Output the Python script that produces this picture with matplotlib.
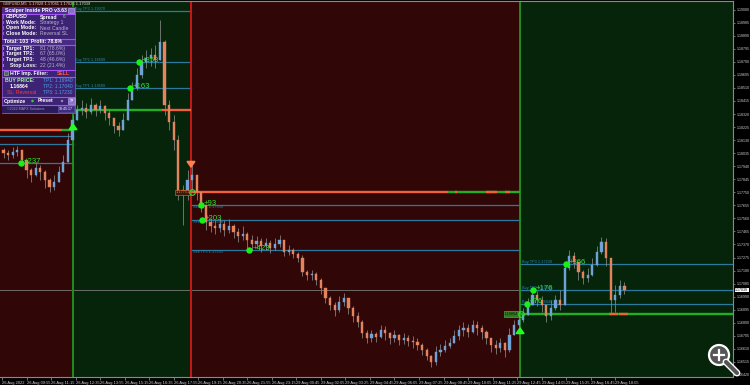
import matplotlib
matplotlib.use("Agg")
import matplotlib.pyplot as plt
from matplotlib.patches import Rectangle, Circle
import matplotlib.transforms as mtransforms
import numpy as np

plt.rcParams['font.family'] = ['Liberation Sans', 'DejaVu Sans']

# ---- price data (15 min candles) ----
first_open = 1.18058
closes = [
    1.18036, 1.18022, 1.18043, 1.18058, 1.17985, 1.17912, 1.17876, 1.17927, 1.17898, 1.17840,
    1.17789, 1.17825, 1.17898, 1.17971, 1.18131, 1.18276, 1.18349, 1.18364, 1.18335, 1.18386,
    1.18349, 1.18378, 1.18327, 1.18291, 1.18233, 1.18204, 1.18276, 1.18422, 1.18509, 1.18604,
    1.18699, 1.18728, 1.18750, 1.18713, 1.18844, 1.18386, 1.18262, 1.18131, 1.17767, 1.17730,
    1.17840, 1.17876, 1.17752, 1.17658, 1.17534, 1.17505, 1.17490, 1.17519, 1.17476, 1.17505,
    1.17461, 1.17432, 1.17447, 1.17403, 1.17374, 1.17396, 1.17359, 1.17381, 1.17345, 1.17374,
    1.17403, 1.17315, 1.17330, 1.17301, 1.17272, 1.17170, 1.17148, 1.17155, 1.17112, 1.17053,
    1.16981, 1.16930, 1.16893, 1.16951, 1.16981, 1.16908, 1.16850, 1.16806, 1.16726, 1.16689,
    1.16719, 1.16697, 1.16748, 1.16726, 1.16689, 1.16711, 1.16675, 1.16689, 1.16668, 1.16660,
    1.16638, 1.16602, 1.16558, 1.16515, 1.16587, 1.16602, 1.16631, 1.16653, 1.16704, 1.16748,
    1.16762, 1.16733, 1.16784, 1.16762, 1.16733, 1.16689, 1.16638, 1.16617, 1.16653, 1.16602,
    1.16711, 1.16784, 1.16820, 1.16857, 1.16930, 1.17002, 1.16966, 1.16930, 1.16850, 1.16908,
    1.16966, 1.16930, 1.17199, 1.17286, 1.17243, 1.17170, 1.17126, 1.17148, 1.17221, 1.17315,
    1.17388, 1.17272, 1.16966, 1.17002, 1.17068, 1.17039,
]
highs = [
    1.18073, 1.18058, 1.18080, 1.18087, 1.18058, 1.17985, 1.17927, 1.17971, 1.17949, 1.17912,
    1.17854, 1.17876, 1.17942, 1.18022, 1.18182, 1.18313, 1.18386, 1.18422, 1.18400, 1.18437,
    1.18400, 1.18422, 1.18386, 1.18349, 1.18291, 1.18262, 1.18327, 1.18473, 1.18553, 1.18655,
    1.18750, 1.18786, 1.18801, 1.18822, 1.19004, 1.18859, 1.18422, 1.18313, 1.18167, 1.17803,
    1.17912, 1.17949, 1.17854, 1.17730, 1.17658, 1.17563, 1.17548, 1.17563, 1.17548, 1.17556,
    1.17519, 1.17490, 1.17505, 1.17461, 1.17439, 1.17432, 1.17417, 1.17417, 1.17403, 1.17417,
    1.17439, 1.17359, 1.17366, 1.17345, 1.17315, 1.17294, 1.17184, 1.17184, 1.17170, 1.17126,
    1.17053, 1.16995, 1.16951, 1.16995, 1.17017, 1.16981, 1.16922, 1.16879, 1.16820, 1.16748,
    1.16748, 1.16733, 1.16784, 1.16777, 1.16733, 1.16748, 1.16719, 1.16726, 1.16711, 1.16704,
    1.16689, 1.16653, 1.16617, 1.16566, 1.16631, 1.16646, 1.16675, 1.16689, 1.16748, 1.16784,
    1.16806, 1.16791, 1.16820, 1.16813, 1.16784, 1.16748, 1.16689, 1.16675, 1.16689, 1.16660,
    1.16762, 1.16820, 1.16871, 1.16908, 1.16981, 1.17053, 1.17032, 1.16995, 1.16930, 1.16966,
    1.17002, 1.17039, 1.17243, 1.17330, 1.17315, 1.17228, 1.17184, 1.17199, 1.17272, 1.17359,
    1.17425, 1.17417, 1.17272, 1.17075, 1.17112, 1.17097,
]
lows = [
    1.18000, 1.17985, 1.18000, 1.18014, 1.17949, 1.17854, 1.17825, 1.17869, 1.17840, 1.17781,
    1.17752, 1.17767, 1.17840, 1.17912, 1.17971, 1.18131, 1.18276, 1.18313, 1.18291, 1.18320,
    1.18306, 1.18327, 1.18276, 1.18240, 1.18182, 1.18160, 1.18204, 1.18313, 1.18422, 1.18495,
    1.18582, 1.18655, 1.18670, 1.18655, 1.18713, 1.18313, 1.18204, 1.18058, 1.17694, 1.17512,
    1.17694, 1.17767, 1.17694, 1.17607, 1.17476, 1.17461, 1.17447, 1.17461, 1.17432, 1.17454,
    1.17417, 1.17388, 1.17403, 1.17345, 1.17330, 1.17345, 1.17315, 1.17330, 1.17308, 1.17330,
    1.17352, 1.17286, 1.17294, 1.17272, 1.17243, 1.17141, 1.17112, 1.17112, 1.17075, 1.17010,
    1.16944, 1.16893, 1.16850, 1.16879, 1.16922, 1.16864, 1.16806, 1.16769, 1.16689, 1.16653,
    1.16660, 1.16660, 1.16689, 1.16675, 1.16646, 1.16660, 1.16638, 1.16646, 1.16631, 1.16617,
    1.16602, 1.16566, 1.16529, 1.16478, 1.16493, 1.16558, 1.16587, 1.16617, 1.16653, 1.16675,
    1.16704, 1.16697, 1.16726, 1.16711, 1.16682, 1.16646, 1.16587, 1.16573, 1.16587, 1.16551,
    1.16587, 1.16711, 1.16769, 1.16806, 1.16857, 1.16930, 1.16922, 1.16879, 1.16806, 1.16820,
    1.16893, 1.16893, 1.16930, 1.17184, 1.17199, 1.17112, 1.17083, 1.17097, 1.17141, 1.17214,
    1.17301, 1.17214, 1.16871, 1.16879, 1.16981, 1.17010,
]

time_labels = ["26 Aug 2022", "26 Aug 09:55", "26 Aug 11:15", "26 Aug 12:35", "26 Aug 13:55",
               "26 Aug 15:15", "26 Aug 16:35", "26 Aug 17:55", "26 Aug 19:15", "26 Aug 20:35",
               "26 Aug 21:55", "26 Aug 23:15", "29 Aug 00:45", "29 Aug 02:05", "29 Aug 03:25",
               "29 Aug 04:45", "29 Aug 06:05", "29 Aug 07:25", "29 Aug 08:45", "29 Aug 10:05",
               "29 Aug 11:25", "29 Aug 12:45", "29 Aug 14:05", "29 Aug 15:25", "29 Aug 16:45",
               "29 Aug 18:05"]

# ---- trades (signal candle positions, direction, entry and targets) ----
trade_start = [-0.8, 15.1, 40.75, 112.3]
trade_end = [15.1, 40.75, 112.3, 158.6]
trade_dir = ["Sell", "Buy", "Sell", "Buy"]
trade_entry = [1.18200, 1.18346, 1.17751, 1.16864]
trade_tps = [[1.18160, 1.18102, 1.17963],
             [1.18509, 1.18699, 1.19070],
             [1.17658, 1.17548, 1.17330],
             [1.16940, 1.17040, 1.17230]]
# entry line pieces: (trade, from, to, state)  'loss' -> orange, 'win' -> green
entry_pieces = [(0, -0.8, 12.7, "loss"), (0, 12.7, 15.1, "win"),
                (1, 15.1, 34.45, "win"), (1, 34.45, 40.75, "loss"),
                (2, 40.75, 96.6, "loss"), (2, 96.6, 112.3, "win"),
                (2, 98.1, 98.6, "loss"), (2, 105.0, 107.3, "loss"), (2, 109.0, 110.1, "loss"),
                (3, 112.3, 158.6, "win"),
                (3, 131.6, 133.6, "loss"), (3, 133.8, 135.8, "loss")]

hit_x = [3.8, 27.5, 29.45, 42.9, 43.1, 53.4, 113.8, 115.1, 122.3]
hit_price = [1.17963, 1.18509, 1.18699, 1.17658, 1.17548, 1.17330, 1.16940, 1.17040, 1.17230]
hit_text = ["+237", "+163", "+353", "+93", "+203", "+423", "+76", "+176", "+366"]

buy_arrows_x = [15.1, 112.3]
buy_arrows_p = [1.18276, 1.16791]
sell_arrows_x = [40.75]
sell_arrows_p = [1.17905]

y_ticks = [round(1.16420 + 0.00095 * k, 5) for k in range(29)]

# ---- figure ----
fig = plt.figure(figsize=(7.5, 3.85), dpi=100, facecolor="black")
ax = fig.add_axes([0, 8 / 385, 733 / 750, 376 / 385])
ax.set_facecolor("black")
ax.set_xlim(-0.77, 158.6)
ax.set_ylim(1.16405, 1.19143)

bg = {"Sell": "#300606", "Buy": "#05240a"}
vcol = {"Sell": "#c81818", "Buy": "#1d8f1d"}
for s, e, d in zip(trade_start, trade_end, trade_dir):
    ax.axvspan(s, e, color=bg[d], lw=0, zorder=0)
for s, d in zip(trade_start[1:], trade_dir[1:]):
    ax.axvline(s, color=vcol[d], lw=1.4, zorder=2)

# bid line
ax.axhline(closes[-1], color="#7a7a7a", lw=0.6, zorder=1)

# TP lines + labels (sell labels sit under the line, buy labels over it)
for i, (s, e, d) in enumerate(zip(trade_start, trade_end, trade_dir)):
    for k, tp in enumerate(trade_tps[i]):
        ax.plot([s, e], [tp, tp], color="#2a7aa0", lw=0.9, zorder=1.5)
        if s > 0:
            ax.text(s + 0.4, tp, f"{d} TP{k + 1} {tp:.5f}", color="#2f86b0",
                    fontsize=2.8, va="top" if d == "Sell" else "bottom",
                    ha="left", zorder=2)

# entry lines
piece_col = {"loss": "#f0603c", "win": "#22b022"}
for i, a, b, st in entry_pieces:
    ax.plot([a, b], [trade_entry[i]] * 2, color=piece_col[st], lw=1.7,
            solid_capstyle="butt", zorder=2.5)

# candles
x = np.arange(len(closes))
c = np.array(closes)
o = np.array([first_open] + closes[:-1])
hi = np.maximum(np.array(highs), np.maximum(o, c))
lo = np.minimum(np.array(lows), np.minimum(o, c))
up = c >= o
ax.vlines(x, lo, hi, color="#8a8a8a", lw=0.55, zorder=3)
ax.bar(x[up], (c - o)[up], bottom=o[up], width=0.5, color="#6fa3d6",
       edgecolor="#6fa3d6", lw=0.3, zorder=4)
ax.bar(x[~up], (c - o)[~up], bottom=o[~up], width=0.5, color="#e3845e",
       edgecolor="#e3845e", lw=0.3, zorder=4)

# entry price boxes and open circles
ax.text(trade_start[2] - 0.3, trade_entry[2], f"{trade_entry[2]:.5f}", ha="right", va="center",
        fontsize=2.8, color="#e07040", zorder=6,
        bbox=dict(boxstyle="square,pad=0.15", fc="#3a1a0a", ec="#c06030", lw=0.5))
ax.text(trade_start[3] - 0.3, trade_entry[3], f"{trade_entry[3]:.5f}", ha="right", va="center",
        fontsize=2.8, color="#0a200a", zorder=6,
        bbox=dict(boxstyle="square,pad=0.15", fc="#2f7a1c", ec="#40b040", lw=0.5))
ax.plot([trade_start[2] + 0.3, trade_start[3] + 0.3], [trade_entry[2], trade_entry[3]], "o",
        mfc="none", mec="#33dd33", ms=4, mew=0.8, zorder=6)

# TP hits
ax.plot(hit_x, hit_price, "o", color="#19f019", ms=3.6, zorder=7)
for hx, hp, t in zip(hit_x, hit_price, hit_text):
    ax.annotate(t, (hx, hp), xytext=(2.2, 1.2), textcoords="offset points",
                color="#2fe62f", fontsize=5.6, va="center", ha="left", zorder=7)

# signal arrows
for ax_x, ax_p in zip(buy_arrows_x, buy_arrows_p):
    ax.annotate("", xy=(ax_x, ax_p), xytext=(0, -7), textcoords="offset points",
                arrowprops=dict(arrowstyle="-|>,head_width=0.25,head_length=0.35",
                                color="#22ff22", lw=1.4), zorder=8)
for ax_x, ax_p in zip(sell_arrows_x, sell_arrows_p):
    ax.annotate("", xy=(ax_x, ax_p), xytext=(0, 7), textcoords="offset points",
                arrowprops=dict(arrowstyle="-|>,head_width=0.25,head_length=0.35",
                                color="#ff7f50", lw=1.4), zorder=8)

# axes cosmetics
ax.yaxis.tick_right()
ax.set_yticks(y_ticks)
ax.set_yticklabels([f"{v:.5f}" for v in y_ticks])
tick_pos = (16 * np.arange(len(time_labels)) - 1) / 3
ax.set_xticks(tick_pos)
ax.set_xticklabels(time_labels, ha="left")
ax.tick_params(axis="y", colors="#9a9a9a", labelcolor="#d0d0d0", labelsize=2.6,
               length=1.5, width=0.5, pad=1.0)
ax.tick_params(axis="x", colors="#9a9a9a", labelcolor="#d0d0d0", labelsize=2.9,
               length=2, width=0.5, pad=1.0)
for sp in ax.spines.values():
    sp.set_color("#8a8a8a")
    sp.set_linewidth(0.8)
ax.spines["left"].set_visible(False)

trans = mtransforms.blended_transform_factory(ax.transAxes, ax.transData)
ax.text(1.003, closes[-1], f"{closes[-1]:.5f}", transform=trans, fontsize=2.6,
        color="black", va="center", ha="left", zorder=9, clip_on=False,
        bbox=dict(boxstyle="square,pad=0.1", fc="white", ec="white", lw=0))

# ---- overlay in pixel coordinates: header, info panel, zoom icon ----
ov = fig.add_axes([0, 0, 1, 1], zorder=10)
ov.set_xlim(0, 750)
ov.set_ylim(385, 0)
ov.axis("off")

ov.text(3, 3.5, "GBPUSD,M5  1.17028 1.17041 1.17026 1.17039", fontsize=2.9,
        color="#d8d8d8", va="center", ha="left")

ov.add_patch(Rectangle((2, 7), 73, 106, fc="#3c2373", ec="#8a50d8", lw=0.6))
ov.add_patch(Rectangle((2, 7), 73, 7, fc="#4c2e8e", ec="none"))
ov.add_patch(Rectangle((2, 38.5), 73, 6, fc="#462a84", ec="none"))
ov.add_patch(Rectangle((2, 105), 73, 8, fc="#2c1b5a", ec="none"))
for sy in [14, 38.5, 44.5, 69.5, 77, 97, 105]:
    ov.plot([2, 75], [sy, sy], color="#a552f5", lw=0.8)

bold = dict(fontsize=3.7, fontweight="bold", va="center", ha="left")
ov.text(5, 10.5, "Scalper Inside PRO v3.63", color="white", **bold)
ov.add_patch(Rectangle((68, 8.2), 6, 5, fc="#8a6cd0", ec="#c8b8f0", lw=0.4))

info_labels = ["GBPUSD", "Work Mode:", "Open Mode:", "Close Mode:"]
info_values = ["Strategy 1", "Next Candle", "Reversal SL"]
info_y = [17, 22.5, 28, 33.5]
for lab, yy in zip(info_labels, info_y):
    ov.add_patch(Rectangle((2.6, yy - 1.8), 1.4, 3.6, fc="#c040c8", ec="none"))
    ov.text(5.5, yy, lab, color="white", **bold)
ov.text(40, info_y[0], "Spread", color="white", **bold)
ov.text(63, info_y[0], "6", color="#40c040", **bold)
for val, yy in zip(info_values, info_y[1:]):
    ov.text(40, yy, val, color="#b8b4cc", fontsize=3.7, va="center", ha="left")

ov.text(4, 41.5, "Total: 103  Profit: 78.6%", color="white", **bold)

stat_labels = ["Target TP1:", "Target TP2:", "Target TP3:", "Stop Loss:"]
stat_values = ["81 (78.6%)", "67 (65.0%)", "48 (46.6%)", "22 (21.4%)"]
stat_y = [48.5, 54, 59.5, 65.5]
stat_col = ["#40c040", "#40c040", "#40c040", "#ff6a30"]
for lab, val, yy, cc in zip(stat_labels, stat_values, stat_y, stat_col):
    ov.add_patch(Rectangle((2.6, yy - 1.8), 1.4, 3.6, fc=cc, ec="none"))
    ov.text(6.5 if lab.startswith("T") else 10, yy, lab, color="white", **bold)
    ov.text(40, yy, val, color="#b8b4cc", fontsize=3.7, va="center", ha="left")

ov.add_patch(Rectangle((4, 71.3), 4, 4, fc="#4a6a5a", ec="#a0c0a0", lw=0.4))
ov.text(10, 73.3, "HTF Imp. Filter:", color="white", **bold)
ov.text(57, 73.3, "SELL", color="#ff5a30", **bold)

ov.text(5, 81, "BUY PRICE:", color="#a8f5a8", **bold)
ov.text(10, 87, f"{trade_entry[3]:.5f}", color="white", **bold)
ov.text(7, 93, "SL: Reversal", color="#ff3a3a", fontsize=3.7, va="center", ha="left")
for k, yy in enumerate([81, 87, 93]):
    ov.text(43, yy, f"TP{k + 1}: {trade_tps[3][k]:.5f}", color="#4f9fe6",
            fontsize=3.5, va="center", ha="left")

ov.text(3.5, 101, "Optimize", color="white", **bold)
ov.add_patch(Circle((32.5, 101), 1.3, fc="#30d030", ec="none"))
ov.text(38, 101, "Preset", color="white", **bold)
ov.add_patch(Circle((62, 101), 1.2, fc="#9a90b0", ec="none"))
ov.add_patch(Rectangle((67.5, 98), 7, 6, fc="#9070d8", ec="#c8b8f0", lw=0.4))
ov.text(71, 101, ">", color="white", fontsize=4, fontweight="bold", va="center", ha="center")

ov.text(7, 109, "\u00a92022 MAFX Solutions", color="#9c98c0", fontsize=2.6, va="center", ha="left")
ov.add_patch(Rectangle((58, 106.2), 16, 5.6, fc="#3e2c80", ec="#6a58b0", lw=0.4))
ov.text(66, 109, "18:45:17", color="white", fontsize=2.6, va="center", ha="center")

# zoom icon overlay
ov.plot([726, 737], [362, 373], color="white", lw=5.0, solid_capstyle="round")
ov.plot([726, 737], [362, 373], color="#555555", lw=3.0, solid_capstyle="round")
ov.add_patch(Circle((719, 355), 10, fc="#555555", ec="white", lw=1.6))
ov.plot([714, 724], [355, 355], color="white", lw=1.6)
ov.plot([719, 719], [350, 360], color="white", lw=1.6)

fig.savefig("out.png", dpi=100, facecolor="black")
